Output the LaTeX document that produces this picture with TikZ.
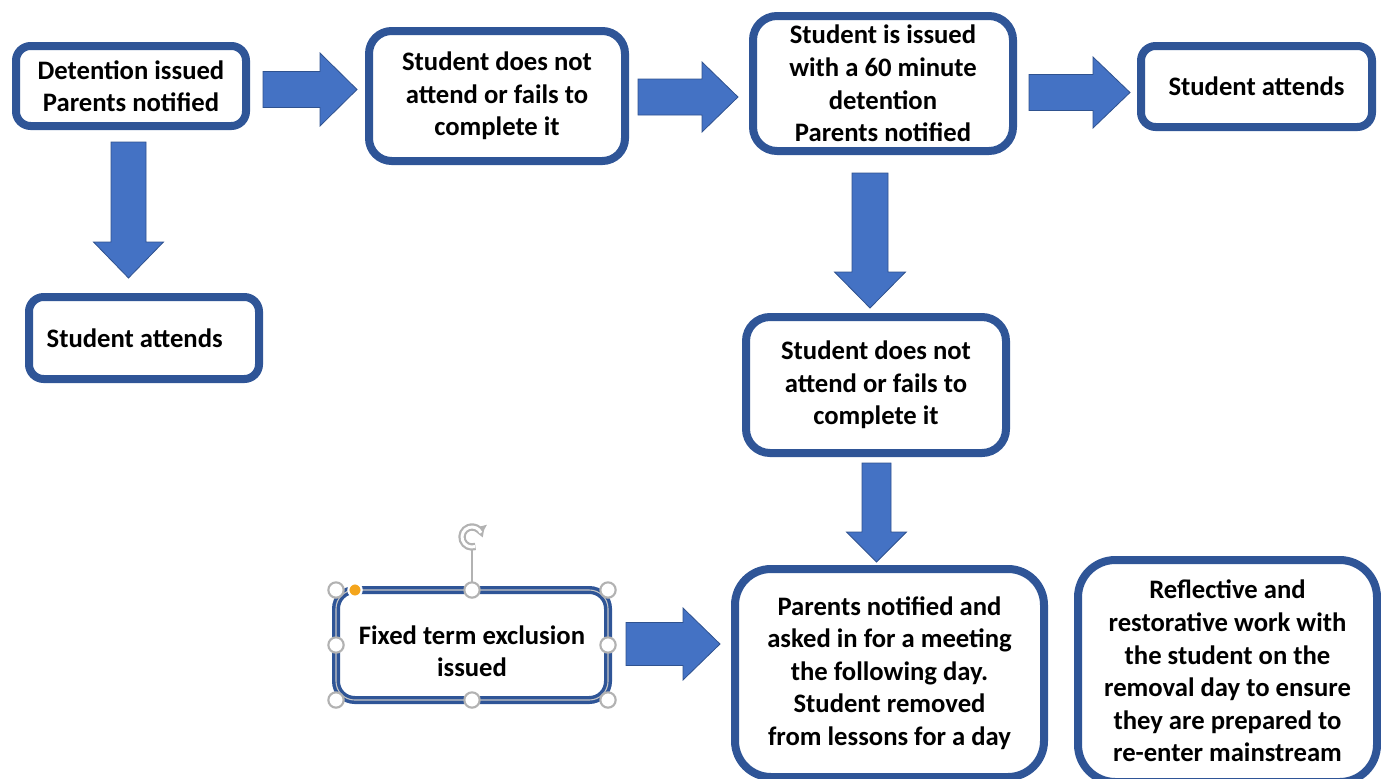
\documentclass[tikz,border=0pt]{standalone}
\usepackage{fontspec}
\setmainfont{Carlito}
\usetikzlibrary{arrows.meta}
\definecolor{boxblue}{HTML}{2F5597}
\definecolor{arrowblue}{HTML}{4472C4}
\definecolor{arrowedge}{HTML}{2F528F}
\definecolor{handleorange}{HTML}{F4A51C}
\tikzset{
  stagebox/.style={draw=boxblue, line width=6pt, fill=white, align=center,
    font=\fontsize{20}{24.4}\selectfont\bfseries, inner sep=0pt, outer sep=0pt},
  blockarrow/.style={fill=arrowblue, draw=arrowedge, line width=0.6pt},
  handle/.style={circle, draw=gray!60, fill=white, line width=1.6pt,
    minimum size=11.5pt, inner sep=0pt},
}
% right block arrow: x start, x head, x tip, y centre, shaft half, head half
\newcommand{\harrow}[6]{\filldraw[blockarrow] (#1,#4-#5) -- (#2,#4-#5) -- (#2,#4-#6) -- (#3,#4) -- (#2,#4+#6) -- (#2,#4+#5) -- (#1,#4+#5) -- cycle;}
% down block arrow: y start, y head, y tip, x centre, shaft half, head half
\newcommand{\varrow}[6]{\filldraw[blockarrow] (#4-#5,#1) -- (#4-#5,#2) -- (#4-#6,#2) -- (#4,#3) -- (#4+#6,#2) -- (#4+#5,#2) -- (#4+#5,#1) -- cycle;}
% text block set a little lower than the box centre
\newcommand{\lowtext}[1]{\raisebox{0pt}[\dimexpr\height+13.5pt\relax][\depth]{\begin{tabular}{@{}c@{}}#1\end{tabular}}}
\begin{document}
\begin{tikzpicture}[x=0.75pt,y=-0.75pt]
\useasboundingbox (0,0) rectangle (1381,778);
\clip (0,0) rectangle (1381,778);

% arrows
\harrow{263}{320}{357}{89.5}{18}{36.5}
\harrow{638}{702}{738}{97}{18}{35}
\harrow{1029}{1093}{1130}{92.5}{18}{35.5}
\harrow{626}{683}{720}{644}{21.5}{36}
\varrow{142}{242}{278}{128.5}{17.5}{35}
\varrow{173}{272}{308}{870}{18}{35.5}
\varrow{463}{532}{562}{876.5}{14.5}{30}

% boxes
\node[stagebox, minimum width=172.5pt, minimum height=60pt, rounded corners=11pt] (detention) at (131,86) {Detention issued\\Parents notified};
\node[stagebox, minimum width=192pt, minimum height=97.5pt, rounded corners=17pt] (noshowA) at (497,96) {Student does not\\attend or fails to\\complete it};
\node[stagebox, minimum width=195pt, minimum height=101.25pt, rounded corners=18pt] (longdet) at (883,83.5) {Student is issued\\with a 60 minute\\detention\\Parents notified};
\node[stagebox, minimum width=173.25pt, minimum height=60.75pt, rounded corners=11pt] (attendsB) at (1256.5,86.5) {Student attends};
\node[stagebox, minimum width=172.5pt, minimum height=61.5pt, rounded corners=11pt] (attendsA) at (144,338) {Student attends\hspace{14pt}};
\node[stagebox, minimum width=195pt, minimum height=102pt, rounded corners=18pt] (noshowB) at (876,385) {Student does not\\attend or fails to\\complete it};
\node[stagebox, minimum width=204pt, minimum height=82.5pt, rounded corners=14pt] (exclusion) at (472,645) {\lowtext{Fixed term exclusion\\issued}};
\node[stagebox, minimum width=231.75pt, minimum height=156pt, rounded corners=27pt] (removal) at (889.5,673) {Parents notified and\\asked in for a meeting\\the following day.\\Student removed\\from lessons for a day};
\node[stagebox, minimum width=224.25pt, minimum height=166.5pt, rounded corners=28pt] (reflect) at (1227.5,671) {Reflective and\\restorative work with\\the student on the\\removal day to ensure\\they are prepared to\\re-enter mainstream};

% selection handles round the exclusion box
\draw[gray!45, line width=0.8pt, rounded corners=14pt] (exclusion.north west) rectangle (exclusion.south east);
\draw[gray!60, line width=1.4pt] (exclusion.north) -- (472,550);
\draw[gray!60, line width=5.5pt, -{Triangle[length=6pt,width=11pt]}] (472,537) ++(70:10) arc[start angle=70, end angle=345, radius=10];
\draw[white, line width=2.2pt] (472,537) ++(72:10) arc[start angle=72, end angle=335, radius=10];
\foreach \a in {north west,north,north east,west,east,south west,south,south east}
  \node[handle] (h-\a) at (exclusion.\a) {};
\node[handle, fill=handleorange, draw=white, minimum size=10pt] (h-adjust) at (355,590) {};
\end{tikzpicture}
\end{document}
